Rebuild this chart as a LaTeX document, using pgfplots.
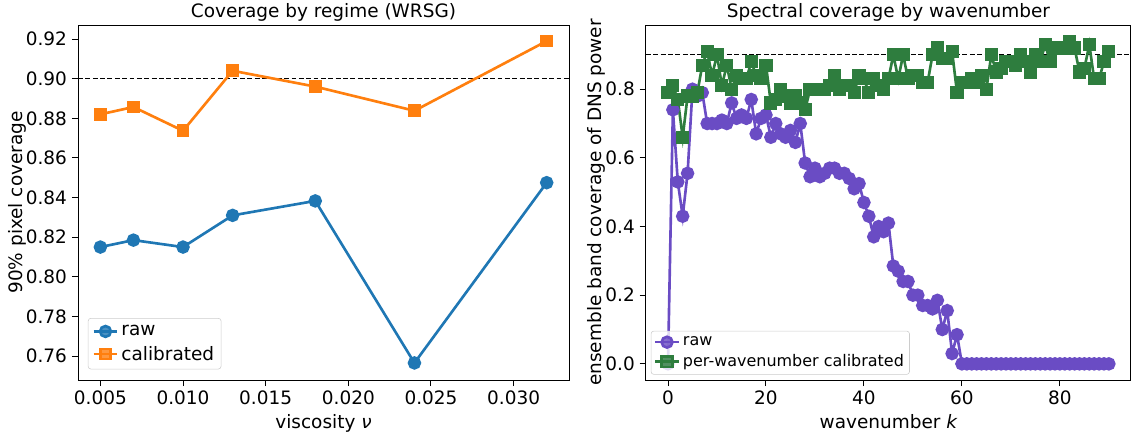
\documentclass[border=0pt]{standalone}
\usepackage{fontspec}
\setmainfont{DejaVu Sans}
\usepackage{pgfplots}
\pgfplotsset{compat=1.18}
\definecolor{mplblue}{HTML}{1F77B4}
\definecolor{mplorange}{HTML}{FF7F0E}
\definecolor{rawpurple}{HTML}{6A4CC4}
\definecolor{calgreen}{HTML}{2E7D3E}
\pgfplotsset{
  every axis title shift=0pt,
  mystyle/.style={
    scale only axis,
    axis line style={line width=0.7pt},
    tick align=outside, tick pos=left,
    major tick length=4.5pt,
    every tick/.style={line width=0.7pt, black},
    /pgf/number format/assume math mode=true,
    tick label style={font=\fontsize{13.3}{16}\selectfont},
    label style={font=\fontsize{13.3}{16}\selectfont},
    xlabel style={at={(axis description cs:0.5,0)}, anchor=north, yshift=-21pt},
    ylabel style={yshift=-7pt},
    title style={font=\fontsize{13.3}{16}\selectfont, at={(axis description cs:0.5,1)}, anchor=base, yshift=5.5pt},
    legend style={font=\fontsize{13.3}{16}\selectfont, draw=black!20, rounded corners=2pt, fill=white, fill opacity=0.8, text opacity=1, row sep=2pt, inner sep=3pt},
    legend cell align=left,
  }
}
\begin{document}
\begin{tikzpicture}
\begin{axis}[mystyle,
  at={(56.2pt,40.3pt)}, anchor=south west,
  width=353.5pt, height=255.6pt,
  xmin=0.00365, xmax=0.03335, ymin=0.7479, ymax=0.9271,
  xtick={0.005,0.010,0.015,0.020,0.025,0.030},
  xticklabels={0.005,0.010,0.015,0.020,0.025,0.030},
  ytick={0.76,0.78,0.80,0.82,0.84,0.86,0.88,0.90,0.92},
  yticklabels={0.76,0.78,0.80,0.82,0.84,0.86,0.88,0.90,0.92},
  scaled x ticks=false,
  title={Coverage by regime (WRSG)},
  xlabel={viscosity {\itshape ν}},
  ylabel={90\% pixel coverage},
  legend style={at={(0.02,0.03)}, anchor=south west},
]
\addplot[black, dash pattern=on 3.5pt off 1.8pt, line width=0.8pt, forget plot] coordinates {(0.00365,0.9) (0.03335,0.9)};
\addplot[mplblue, line width=1.9pt, mark=*, mark size=3.9pt, mark options={solid}] coordinates {
(0.005,0.815) (0.007,0.8185) (0.010,0.815) (0.013,0.831) (0.018,0.8383) (0.024,0.7565) (0.032,0.8475)};
\addlegendentry{raw}
\addplot[mplorange, line width=1.9pt, mark=square*, mark size=3.6pt, mark options={solid}] coordinates {
(0.005,0.882) (0.007,0.8857) (0.010,0.8737) (0.013,0.904) (0.018,0.896) (0.024,0.8838) (0.032,0.919)};
\addlegendentry{calibrated}
\end{axis}
\begin{axis}[mystyle,
  at={(465.1pt,40.3pt)}, anchor=south west,
  width=349.2pt, height=255.6pt,
  xmin=-4.5, xmax=94.5, ymin=-0.047, ymax=0.987,
  xtick={0,20,40,60,80},
  ytick={0,0.2,0.4,0.6,0.8},
  yticklabels={0.0,0.2,0.4,0.6,0.8},
  title={Spectral coverage by wavenumber},
  xlabel={wavenumber {\itshape k}},
  ylabel={ensemble band coverage of DNS power},
  legend style={at={(0.01,0.015)}, anchor=south west, font=\fontsize{11.5}{14}\selectfont, inner sep=2pt, row sep=1pt},
]
\addplot[black, dash pattern=on 3.5pt off 1.8pt, line width=0.8pt, forget plot] coordinates {(-4.5,0.9) (94.5,0.9)};
\addplot[rawpurple, line width=1.9pt, mark=*, mark size=3.9pt] coordinates {
(0,0.0) (1,0.74) (2,0.53) (3,0.43) (4,0.555) (5,0.80) (6,0.78) (7,0.79) (8,0.70) (9,0.70)
(10,0.70) (11,0.71) (12,0.70) (13,0.76) (14,0.715) (15,0.725) (16,0.715) (17,0.77) (18,0.67) (19,0.715)
(20,0.725) (21,0.66) (22,0.70) (23,0.67) (24,0.66) (25,0.68) (26,0.645) (27,0.70) (28,0.585) (29,0.545)
(30,0.57) (31,0.545) (32,0.555) (33,0.57) (34,0.57) (35,0.555) (36,0.555) (37,0.54) (38,0.51) (39,0.525)
(40,0.47) (41,0.43) (42,0.37) (43,0.40) (44,0.385) (45,0.41) (46,0.285) (47,0.27) (48,0.24) (49,0.24)
(50,0.20) (51,0.20) (52,0.17) (53,0.17) (54,0.16) (55,0.185) (56,0.10) (57,0.155) (58,0.03) (59,0.085)
(60,0) (61,0) (62,0) (63,0) (64,0) (65,0) (66,0) (67,0) (68,0) (69,0)
(70,0) (71,0) (72,0) (73,0) (74,0) (75,0) (76,0) (77,0) (78,0) (79,0)
(80,0) (81,0) (82,0) (83,0) (84,0) (85,0) (86,0) (87,0) (88,0) (89,0) (90,0)};
\addlegendentry{raw}
\addplot[calgreen, line width=1.9pt, mark=square*, mark size=3.8pt] coordinates {
(0,0.79) (1,0.81) (2,0.77) (3,0.66) (4,0.78) (5,0.78) (6,0.79) (7,0.87) (8,0.91) (9,0.84)
(10,0.90) (11,0.81) (12,0.87) (13,0.80) (14,0.84) (15,0.83) (16,0.83) (17,0.88) (18,0.84) (19,0.83)
(20,0.87) (21,0.76) (22,0.77) (23,0.80) (24,0.78) (25,0.76) (26,0.78) (27,0.76) (28,0.74) (29,0.80)
(30,0.80) (31,0.80) (32,0.80) (33,0.81) (34,0.84) (35,0.80) (36,0.81) (37,0.81) (38,0.79) (39,0.84)
(40,0.83) (41,0.79) (42,0.83) (43,0.81) (44,0.80) (45,0.83) (46,0.90) (47,0.83) (48,0.90) (49,0.83)
(50,0.84) (51,0.84) (52,0.82) (53,0.82) (54,0.90) (55,0.92) (56,0.89) (57,0.89) (58,0.91) (59,0.79)
(60,0.82) (61,0.82) (62,0.83) (63,0.82) (64,0.84) (65,0.80) (66,0.90) (67,0.85) (68,0.86) (69,0.88)
(70,0.88) (71,0.87) (72,0.90) (73,0.88) (74,0.85) (75,0.90) (76,0.88) (77,0.93) (78,0.88) (79,0.92)
(80,0.92) (81,0.92) (82,0.94) (83,0.92) (84,0.85) (85,0.86) (86,0.93) (87,0.83) (88,0.83) (89,0.88) (90,0.91)};
\addlegendentry{per-wavenumber calibrated}
\end{axis}
\pgfresetboundingbox
\useasboundingbox (0,0) rectangle (815.8pt,313.9pt);
\end{tikzpicture}
\end{document}
